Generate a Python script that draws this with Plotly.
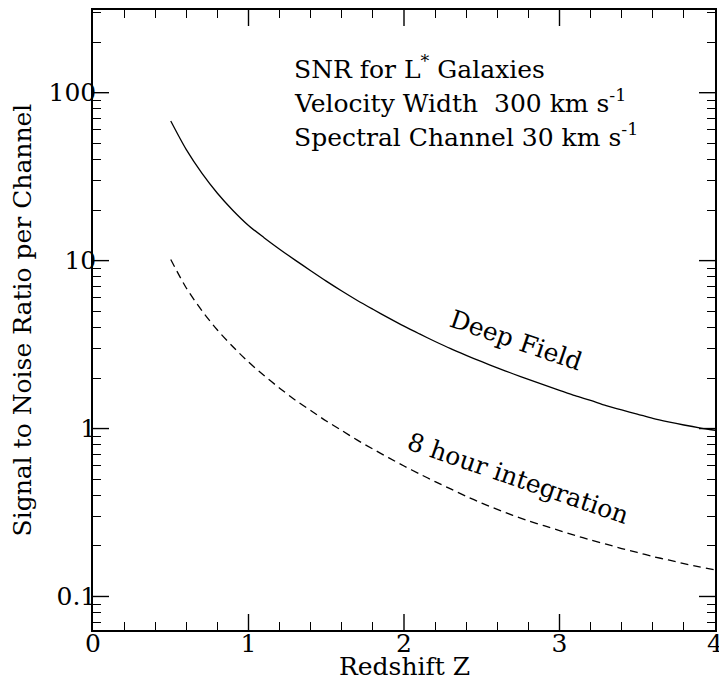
import plotly.graph_objects as go

# Data
redshift = [0.5, 0.6, 0.7, 0.8, 0.9, 1.0, 1.1, 1.2, 1.3, 1.4, 1.5, 1.6, 1.7, 1.8, 1.9, 2.0,
            2.1, 2.2, 2.3, 2.4, 2.5, 2.6, 2.7, 2.8, 2.9, 3.0, 3.1, 3.2, 3.3, 3.4, 3.5, 3.6, 3.7, 3.8, 3.9, 4.0]
snr_deep_field = [67.8, 45.8, 33.2, 25.2, 19.9, 16.2, 13.7, 11.7, 10.07, 8.71, 7.55, 6.59, 5.79, 5.13, 4.56, 4.07,
                  3.66, 3.30, 2.99, 2.73, 2.50, 2.30, 2.12, 1.96, 1.82, 1.69, 1.57, 1.47, 1.37, 1.29, 1.22,
                  1.15, 1.096, 1.05, 1.01, 0.977]
snr_8hour = [10.16, 6.87, 5.04, 3.86, 3.07, 2.49, 2.07, 1.74, 1.48, 1.28, 1.11, 0.973, 0.853, 0.755, 0.671, 0.598,
             0.537, 0.483, 0.437, 0.395, 0.360, 0.330, 0.304, 0.282, 0.264, 0.247, 0.231, 0.217, 0.205, 0.193,
             0.183, 0.173, 0.165, 0.157, 0.150, 0.144]

y_tickvals = [0.1, 1, 10, 100]
y_ticktext = ["0.1", "1", "10", "100"]
y_minor_ticks = [0.07, 0.08, 0.09, 0.2, 0.3, 0.4, 0.5, 0.6, 0.7, 0.8, 0.9,
                 2, 3, 4, 5, 6, 7, 8, 9, 20, 30, 40, 50, 60, 70, 80, 90, 200, 300]
x_tickvals = [0, 1, 2, 3, 4]
x_ticktext = ["0", "1", "2", "3", "4"]
x_minor_ticks = [0.2, 0.4, 0.6, 0.8, 1.2, 1.4, 1.6, 1.8, 2.2, 2.4, 2.6, 2.8, 3.2, 3.4, 3.6, 3.8]

FONT = "DejaVu Serif"
FS = 25
XR = [0, 4]
YR = [-1.1996, 2.4924]
W, H = 719, 679
M = dict(l=93, r=4, t=10, b=49)
PLOT_W = W - M["l"] - M["r"]
PLOT_H = H - M["t"] - M["b"]
MAJOR_LEN = 16

fig = go.Figure()
fig.add_trace(go.Scatter(x=redshift, y=snr_deep_field, mode="lines",
                         line=dict(color="black", width=1.3, shape="spline", smoothing=0.8),
                         showlegend=False, hoverinfo="skip"))
fig.add_trace(go.Scatter(x=redshift, y=snr_8hour, mode="lines",
                         line=dict(color="black", width=1.3, dash="8px,5px", shape="spline", smoothing=0.8),
                         showlegend=False, hoverinfo="skip"))
# helper (empty) trace so the minor-tick overlay axes are drawn
fig.add_trace(go.Scatter(x=[None], y=[None], xaxis="x2", yaxis="y2", mode="lines",
                         showlegend=False, hoverinfo="skip"))

# major tick marks (inside, all four sides) built from the tick values
dx = MAJOR_LEN / PLOT_W * (XR[1] - XR[0])
dly = MAJOR_LEN / PLOT_H * (YR[1] - YR[0])
y_lo, y_hi = 10 ** YR[0], 10 ** YR[1]
y_lo_in, y_hi_in = 10 ** (YR[0] + dly), 10 ** (YR[1] - dly)
tx, ty = [], []
for v in x_tickvals[1:-1]:
    tx += [v, v, None, v, v, None]
    ty += [y_lo, y_lo_in, None, y_hi, y_hi_in, None]
for v in y_tickvals:
    tx += [XR[0], XR[0] + dx, None, XR[1], XR[1] - dx, None]
    ty += [v, v, None, v, v, None]
fig.add_trace(go.Scatter(x=tx, y=ty, mode="lines", line=dict(color="black", width=1.4),
                         connectgaps=False, showlegend=False, hoverinfo="skip", cliponaxis=False))

tickfont = dict(family=FONT, size=FS, color="black")

fig.update_layout(
    width=W, height=H, margin=M,
    paper_bgcolor="white", plot_bgcolor="white", showlegend=False,
    xaxis=dict(range=XR, tickvals=x_tickvals, ticktext=x_ticktext, automargin=False,
               showline=True, linecolor="black", linewidth=1.5, mirror=True,
               ticks="", showgrid=False, zeroline=False, tickfont=tickfont, fixedrange=True,
               ticklabeloverflow="allow", ticklabelstandoff=-10),
    yaxis=dict(type="log", range=YR, tickvals=y_tickvals, ticktext=y_ticktext, automargin=False,
               showline=True, linecolor="black", linewidth=1.5, mirror=True,
               ticks="", showgrid=False, zeroline=False, tickfont=tickfont, fixedrange=True,
               ticklabeloverflow="allow", ticklabelstandoff=-10),
    xaxis2=dict(range=XR, overlaying="x", anchor="y", side="bottom", automargin=False,
                tickvals=x_minor_ticks, showticklabels=False, showline=False, mirror="ticks",
                ticks="inside", tickcolor="black", tickwidth=1.2, ticklen=8,
                showgrid=False, zeroline=False, fixedrange=True),
    yaxis2=dict(type="log", range=YR, overlaying="y", anchor="x", side="left", automargin=False,
                tickvals=y_minor_ticks, showticklabels=False, showline=False, mirror="ticks",
                ticks="inside", tickcolor="black", tickwidth=1.2, ticklen=8,
                showgrid=False, zeroline=False, fixedrange=True),
)

ann_font = dict(family=FONT, size=FS, color="black")
# axis titles
fig.add_annotation(xref="paper", yref="paper", x=0.5, y=-0.0585, xanchor="center", yanchor="middle",
                   text="Redshift Z", showarrow=False, font=ann_font)
fig.add_annotation(xref="paper", yref="paper", x=-0.1134, y=0.5, xanchor="center", yanchor="middle",
                   text="Signal to Noise Ratio per Channel", textangle=-90, showarrow=False, font=ann_font)
# text block
fig.add_annotation(xref="paper", yref="paper", x=0.320, y=0.908, xanchor="left", yanchor="middle",
                   text="SNR for L<sup>*</sup> Galaxies", showarrow=False, font=ann_font)
fig.add_annotation(xref="paper", yref="paper", x=0.320, y=0.852, xanchor="left", yanchor="middle",
                   text="Velocity Width  300 km s<sup>-1</sup>", showarrow=False, font=ann_font)
fig.add_annotation(xref="paper", yref="paper", x=0.320, y=0.798, xanchor="left", yanchor="middle",
                   text="Spectral Channel 30 km s<sup>-1</sup>", showarrow=False, font=ann_font)
# curve labels
fig.add_annotation(x=2.723, y=0.522, text="Deep Field", textangle=19, showarrow=False, font=ann_font)
fig.add_annotation(x=2.733, y=-0.300, text="8 hour integration", textangle=19, showarrow=False, font=ann_font)

# remove the default page margin so the figure fills the window exactly
fig.write_html("out.html", config={"displayModeBar": False},
               post_script="document.body.style.margin='0';document.body.style.overflow='hidden';")
